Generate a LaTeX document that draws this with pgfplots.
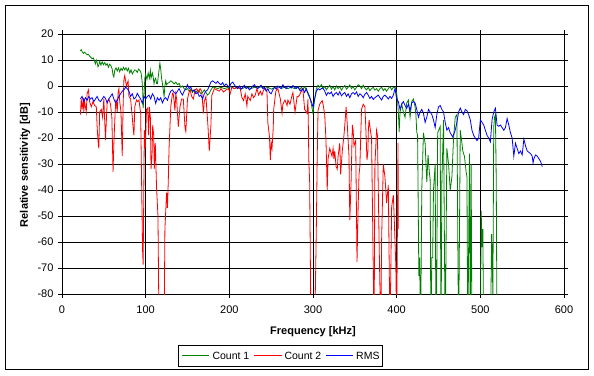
\documentclass[border=0pt]{standalone}
\usepackage{pgfplots}
\usepackage{pgfplotstable}
\pgfplotsset{compat=1.18}
\usepackage{fontspec}
\setmainfont{Liberation Sans}
\definecolor{cgreen}{RGB}{0,128,0}
\definecolor{cred}{RGB}{255,0,0}
\definecolor{cblue}{RGB}{0,0,255}

\pgfplotstableread{
x y
22 13.5
23 14
24 13.2
25.5 12.5
27 13
28.5 12.5
30 12
31.5 12.2
33 11.5
34.5 11
36 10.5
37.5 10.8
39 9.4
40 8.5
41 10
42 9
43 7.4
44 8
45 9.5
46.5 8
48 9.3
49.5 8.2
51 9
52.5 8
54 8.6
55.5 7.2
57 8.4
58.5 7.8
60 6.5
61 4.2
62 3.5
63 6
64.5 7
66 5.8
67.5 7
69 5.5
70.5 6.8
72 6
73.5 7.2
75 6.2
76.5 7
78 5.8
79.5 6.8
81 5
82.5 6.2
84 4.6
85.5 5.5
87 6.2
88.5 6
90 5.2
91.5 6.5
93 6
94.5 5
95.6 2.3
96.5 -2
97 -8.5
98 -4
99 3
100 4.5
101.5 2.5
103 5
104.4 3
105.6 6
106.4 3
108 5
109 3.5
110 0.9
111 2.5
112 3
113 1
114 0.9
115.6 5
117 8.8
118 6.5
119 3
120 1
121 -1.5
122 -4
123 0
124 2
125 0.5
126 1
128 1.3
130 2
132 1.5
134 0.8
136 1.5
138 0.5
140 1
142 -0.5
144 0
146 -1
148 -1.5
150 -1
152 -2
154 -1.3
156 -2.5
158 -1.5
160 -2.5
162 -1.5
164 -2
166 -3
168 -2.5
170 -1.5
172 -2.5
174 -3.5
176 -2.8
178 -1.5
180 -0.5
182 -0.5
186 -1
190 -0.5
194 -1
198 -0.6
202 -0.3
206 -1
210 -0.5
214 -1.2
218 -0.6
222 -0.4
226 -1
230 -0.5
234 -0.8
238 -0.3
242 -1
246 -0.5
250 -1.2
254 -0.6
258 -0.3
262 -0.9
266 -0.5
270 -1
274 -0.4
278 -1
282 -0.2
284 -1.5
286 -0.5
288 -1.2
290 -0.3
292 -1.5
294 -2.5
296 -4
298 -7
300 -10.5
302 -5
304 -1
306 0.3
308 -0.5
310 0.5
312 -1
314 -0.2
316 -1.5
318 -0.5
320 0.3
322 -1.2
324 -0.3
326 -1.5
328 0
330 -1
332 -0.3
334 -1.6
336 -0.5
338 0.2
340 -1.2
342 -0.5
344 0.4
346 -1
348 -0.2
350 -1.5
352 -0.5
354 0.5
356 0
358 -1
360 0.3
362 -0.8
364 -1.5
366 -0.5
368 -1.8
370 -1
372 -0.5
374 -1.6
376 -1
378 -2
380 -1
382 -0.5
384 -1.8
386 -1
388 -2
390 -1
392 -0.2
394 -1.5
396 -0.5
398 -0.5
399 -1.5
400 -3
401 -5.4
402 -10
403 -17.7
404 -10
406 -7
408 -10
410 -12
412 -6.6
414 -5.4
416 -12
418 -6
420 -5
422 -8
423 -11
424 -17.7
425 -19
426.5 -73
427.5 -66
428.5 -100
430 -40
432 -18
434 -22
436 -37
437.5 -26.5
439 -33
440 -36
441 -100
442 -66
443 -66
444 -40
446 -30
447 -100
448 -71
449 -18
452 -15.6
453 -100
454 -37
456 -13
458 -100
460 -24
462 -30
464 -40
466 -35
468 -20
470 -12
472 -11
474 -100
476 -17
478 -22
479 -25
481 -27
483 -33
484 -35
485 -100
487 -26
488 -100
489 -30
490 -100
492 -110
500 -100
501 -48
502 -62
503 -55
504 -100
506 -110
512 -100
513.5 -57
515 -80
516 -16
517 -12
518 -11
519 -36
520 -100
521 -110
}\countone

\pgfplotstableread{
x y
22 -11
23 -5
24 -9
25.5 -4.6
26 -10
27 -6
29 -10
30 -3
31.5 -1.5
33 -6
35 -8
37 -6
39 -7.5
41 -8
42 -15.7
43 -21
44 -24
45 -10
47 -9
48.5 -12
50 -5
51 -13
52 -20.8
54 -6
56 -5
58 -7
59.6 -12
61 -33
62 -22
63.5 -10
64.5 -5
66 -10
67 -2.7
68 -1
69 -6
70.5 -10
72 -27
73 -8
74 2.5
75 4
77 0
79 2
80 -4
82 -5
84 -12
85 -16
86 -19
87 -8
89 -5.4
90.5 -6
92 -5.4
94 -10.5
95.6 -47.7
96.4 -64
97 -68.7
98.4 -17
99.6 -24
101 -9
102.4 -8.5
103.6 -19
104.4 -8
105.6 -12
106.4 -32
107.6 -27
108.4 -15
109.6 -19
110.3 -32
111.5 -22
113 -39
114.7 -50
116 -95
118 -95
120 -95
122 -95
123 -55
124 -48
125 -41
126 -47
127 -37
128 -23.5
129 -16
130 -8
131 -5.4
132 -2.8
133 -3
134 -6
135 -9.5
136 -3
137 -5
139 -15.7
141 -8
143 -5
145 -5
147 -16
148 -17.5
150 -5
151.5 -2.8
153 -1.5
155 -4
157 -5
159 -1.5
161 -1
163 -2.5
165 -1
167 -2
169 -10.5
170 -6
172 -4
174.5 -15.6
176 -25
178 -15
179 -3.7
182 -1
185 -1.5
188 -2
190 -1
193 -2.3
196 -1.5
199 -1
201 -3
203 -0.5
206 -1
209 -0.5
213 -1
215 -4.4
217 -5.6
219 -3
221 -7.7
222 -4
225 -5.6
227 -3
229 -4.5
231 -3.5
233 -1
235 -3.5
237 -2
239 -3.5
241 -1.5
243 -1
245 -2
246 -14
248 -19.6
249 -28.5
250 -22
251 -24
252.5 -16
253 -9
255.6 -2
258 -1
261 -5
263 -10.5
264 -7
266.5 -5.4
269 -7.5
270 -5.4
272.5 -7
275 -3.5
276 -2.5
278.5 -10
281 -4
282 -4.2
284 -3.5
287 -1
288 -1.5
290 -9
293 -10.5
294 -5
295 -28.5
296 -37
297.6 -95
300 -95
302 -95
304 -54
305 -28
306 -9.5
308 -7
311 -5.6
312 -7
314 -11
315.5 -20.8
317 -40
318 -28
320 -24
322.7 -27
324 -24
325 -28
326 -25
327.6 -31
329 -32
330 -27
332 -22
333 -34
335 -25
337 -19
338 -15
339.6 -8
341 -15
343 -27
344 -51.6
345.6 -36
347 -15
348 -17
349 -23
351 -21
352.6 -67.7
354 -46
355 -34
356 -31
358 -9
360 -7
362 -8
363 -15
364.5 -28.5
365.7 -25
366 -18
367 -13
369 -18
370 -20
372 -70
373 -95
374 -30
376 -17
377 -19
379 -60
381 -95
382 -59
384 -30
386 -35
388 -45
390 -38
392 -95
394 -46.5
396 -42
397 -50
399 -69.6
400 -95
401.6 -22
402 -55
}\counttwo

\pgfplotstableread{
x y
22 -5
24 -4
26 -6
28 -4.5
30 -5.5
32 -4
34 -5
36 -4.5
38 -6
40 -5
42 -4
44 -5.5
46 -6
48 -5
50 -4
52 -4.8
54 -6.5
56 -5
58 -4
60 -3
62 -5
64 -6.5
66 -5.5
68 -4
70 -3
72 -2
74 -1.5
76 -0.5
78 -1
80 -2
82 -4
84 -3
86 -5
88 -4.5
90 -2.8
92 -4
94 -5
96 -6.7
98 -4
100 -5
102 -4
104 -3.5
106 -5
108 -3
110 -4
112 -6.7
114 -4.5
116 -5.5
118 -4.5
120 -6.5
122 -5
124 -4.5
126 -5.5
128 -3.5
130 -2
132 -1.5
134 -2.5
136 -3
138 -2
140 -1
142 -2.5
144 -3.5
146 -2
148 -1
150 0.5
152 -1
154 -0.5
156 -2
158 -1.5
160 -3
162 -2.5
164 -4
166 -3.5
168 -5
170 -3
172 -2
174 -1.5
176 0
178 1.5
180 2
182 1.5
184 1
186 1.8
188 1
190 0.5
192 1.3
194 0
196 0.8
198 0.2
200 -0.5
202 1
204 1.5
206 0.5
208 -0.5
210 -1
212 0
214 -1.2
216 -0.5
218 0.3
220 -1
222 -0.5
224 -1.5
226 -0.8
228 0
230 0.5
232 -0.5
234 -1
236 -0.2
238 0.3
240 -1
242 -0.5
244 -2
246 -1
248 -2.5
250 -3
252 -1.5
254 -0.5
256 -1.2
258 0
260 -0.5
262 -1
264 0.5
266 -0.5
268 -1
270 0
272 -0.3
274 -0.8
276 0.2
278 -0.5
280 -1
282 -0.2
284 -1.5
286 -2
288 -1
290 -2.5
292 -1
294 -3
296 -4.5
298 -6
300 -8
302 -5
304 -2
306 -1
308 -1.5
310 -1
312 -0.8
314 -2
316 -3.6
318 -2.5
320 -3
322 -2.3
324 -4
326 -3
328 -2.5
330 -3.5
332 -2.2
334 -3.8
336 -3
338 -2.5
340 -4
342 -3
344 -4.5
346 -3
348 -2.5
350 -3.2
352 -2.3
354 -4
356 -3
358 -3.5
360 -4.5
362 -3.2
364 -2.5
366 -3.5
368 -4.8
370 -4
372 -5.2
374 -4.5
376 -4
378 -3.5
380 -4.5
382 -5.4
384 -4
386 -3.5
388 -4.2
390 -5
392 -4
394 -4.8
396 -3.5
398 -1
400 -5
402 -6
404 -9
406 -7
408 -6
410 -7.5
412 -8.6
414 -7
416 -9.5
418 -6.5
420 -6
422 -6.5
424 -9
426 -12
428 -10
430 -9
432 -10.5
434 -14
436 -12
438 -9
440 -10
442 -11
444 -13
446 -16
448 -11
450 -8
452 -7.5
454 -9
456 -10
458 -14
460 -17
462 -16
464 -18
467 -19.6
470 -17
472 -14
474 -10
476 -8.5
478 -10
480 -11
482 -9
484 -9.5
486 -11
488 -13
490 -17
492 -19
494 -20
496 -21
498 -20
500 -13
502 -14
504 -15
506 -17
508 -19
510 -20
512 -21.5
514 -13
516 -10
518 -8.5
520 -15
522 -15.5
524 -15
526 -16
528 -17
530 -16
532 -12.5
534 -15
536 -18
538 -20
540 -27
542 -22
544 -24
546 -26
548 -25
550 -26.5
552 -20.5
554 -23
556 -25
558 -25.5
560 -26
562 -27
563 -29.6
564 -28
566 -26.5
568 -27
570 -28
572 -29
574 -31
}\rms

\begin{document}
\begin{tikzpicture}[x=1bp,y=1bp]
\path (0,0) rectangle (594,375);
\draw[black, line width=0.8bp] (5.5,5.5) rectangle (588.5,369.5);
\begin{axis}[
  at={(62bp,81bp)}, anchor=south west,
  scale only axis, width=502bp, height=260bp,
  xmin=0, xmax=600, ymin=-80, ymax=20,
  xtick={0,100,...,600}, ytick={-80,-70,...,20},
  grid=major,
  major grid style={black, line width=0.8bp},
  axis line style={black, line width=0.8bp},
  tick style={black, line width=0.8bp},
  tick align=outside, major tick length=4bp,
  tick label style={font=\fontsize{11bp}{13bp}\selectfont},
  /pgf/number format/assume math mode=true,
  xticklabel style={yshift=-4bp},
  yticklabel style={xshift=-1bp},
  xlabel={\bfseries Frequency [kHz]},
  ylabel={\bfseries Relative sensitivity [dB]},
  label style={font=\fontsize{11bp}{13bp}\selectfont},
  xlabel style={at={(axis description cs:0.5,-0.146)}, anchor=center},
  ylabel style={at={(axis description cs:-0.0737,0.496)}, anchor=center},
]
\addplot[color=cgreen, line width=0.8bp] table {\countone};
\addplot[color=cred, line width=0.8bp] table {\counttwo};
\addplot[color=cblue, line width=0.8bp] table {\rms};
\end{axis}
% legend
\draw[black, line width=0.8bp] (178.3,9) rectangle (382.7,30);
\draw[cgreen, line width=1.2bp] (182.3,19.5) -- (209.3,19.5);
\node[anchor=west, inner sep=0pt, font=\fontsize{10.5bp}{12bp}\selectfont] at (212.3,19.5) {Count 1};
\draw[cred, line width=1.2bp] (254.3,19.5) -- (281.7,19.5);
\node[anchor=west, inner sep=0pt, font=\fontsize{10.5bp}{12bp}\selectfont] at (284.3,19.5) {Count 2};
\draw[cblue, line width=1.2bp] (326,19.5) -- (353.3,19.5);
\node[anchor=west, inner sep=0pt, font=\fontsize{10.5bp}{12bp}\selectfont] at (356,19.5) {RMS};
\end{tikzpicture}
\end{document}
